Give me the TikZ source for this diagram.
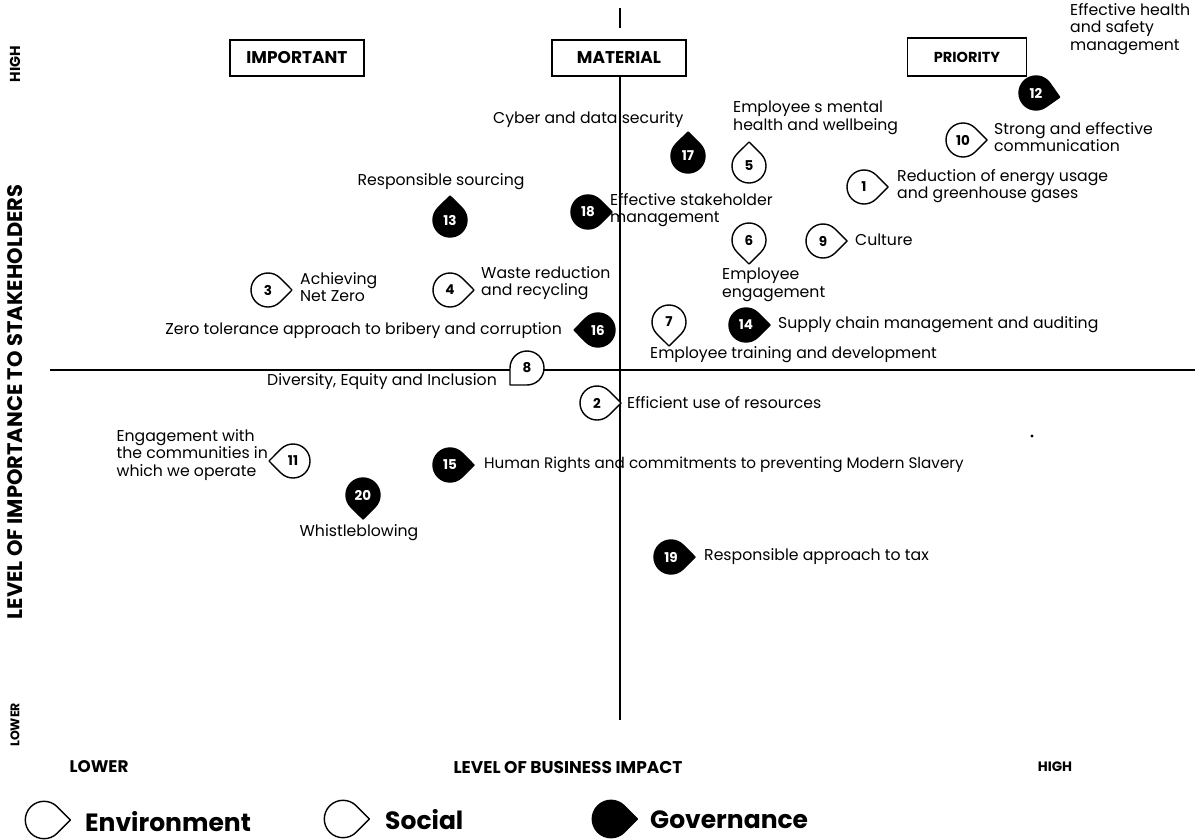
\documentclass[tikz,border=0pt]{standalone}
\usepackage{fontspec}
\setmainfont{Poppins}
\tikzset{
 lbl/.style={font=\fontsize{15.7}{17.5}\selectfont, inner sep=0pt, align=left},
 numb/.style={font=\bfseries\fontsize{13.5}{13.5}\selectfont, inner sep=0pt, text=black},
 numw/.style={font=\bfseries\fontsize{13.5}{13.5}\selectfont, inner sep=0pt, text=white},
 envd/.style={draw=black, fill=white, line width=1.4pt, line join=round},
 govd/.style={draw=black, fill=black, line width=1.4pt, line join=round},
 qbox/.style={draw, line width=1.3pt, minimum width=134pt, minimum height=36pt, font=\bfseries\fontsize{17}{17}\selectfont},
 axis/.style={line width=1.8pt},
 axlbl/.style={font=\bfseries, inner sep=0pt},
 leg/.style={font=\bfseries\fontsize{25}{25}\selectfont, inner sep=0pt, anchor=west}
}
\newcommand{\dropE}[5]{%
 \draw[envd, shift={(#2,#3)}, rotate=#4] (24,0) -- (45:17) arc[start angle=45, end angle=315, radius=17] -- cycle;
 \node[numb] (#1) at (#2,#3) {#5};}
\newcommand{\dropG}[5]{%
 \draw[govd, shift={(#2,#3)}, rotate=#4] (24,0) -- (45:17) arc[start angle=45, end angle=315, radius=17] -- cycle;
 \node[numw] (#1) at (#2,#3) {#5};}
\begin{document}
\begin{tikzpicture}[x=1pt,y=-1pt]
\useasboundingbox[fill=white] (0,0) rectangle (1199,840);
% boxes
\node[qbox] (imp) at (297,58) {IMPORTANT};
\node[qbox] (mat) at (619,58) {MATERIAL};
\node[qbox, minimum width=119pt, minimum height=38pt, font=\bfseries\fontsize{14.5}{14.5}\selectfont] (pri) at (967,57) {PRIORITY};
% axes
\coordinate (vt1) at (620,8);
\coordinate (vt2) at (620,28);
\coordinate (vb1) at (620,76);
\coordinate (vb2) at (620,720);
\coordinate (hl) at (50,370);
\coordinate (hr) at (1195,370);
\draw[axis] (vt1) -- (vt2);
\draw[axis] (vb1) -- (vb2);
\draw[axis] (hl) -- (hr);
% axis labels
\node[axlbl, rotate=90, font=\bfseries\fontsize{14.4}{14.4}\selectfont] (yhigh) at (15,64) {HIGH};
\node[axlbl, rotate=90, font=\bfseries\fontsize{21}{21}\selectfont] (ytitle) at (15,402) {LEVEL OF IMPORTANCE TO STAKEHOLDERS};
\node[axlbl, rotate=90, font=\bfseries\fontsize{12.5}{12.5}\selectfont] (ylow) at (15,725) {LOWER};
\node[axlbl, font=\bfseries\fontsize{16.8}{16.8}\selectfont] (xlow) at (99,767) {LOWER};
\node[axlbl, font=\bfseries\fontsize{17}{17}\selectfont] (xtitle) at (568,767) {LEVEL OF BUSINESS IMPACT};
\node[axlbl, font=\bfseries\fontsize{13.6}{13.6}\selectfont] (xhigh) at (1055,767) {HIGH};
% markers
\dropE{m1}{864}{187}{0}{1}
\dropE{m2}{597}{403}{0}{2}
\dropE{m3}{268}{290}{0}{3}
\dropE{m4}{450}{290}{0}{4}
\dropE{m5}{749}{166}{90}{5}
\dropE{m6}{749}{240}{-90}{6}
\dropE{m7}{669}{322}{-90}{7}
\dropE{m8}{527}{368}{225}{8}
\dropE{m9}{823}{241}{0}{9}
\dropE{m10}{963}{140}{0}{10}
\dropE{m11}{293}{461}{180}{11}
\dropG{m12}{1036}{93}{-10}{12}
\dropG{m13}{450}{220}{90}{13}
\dropG{m14}{746}{325}{0}{14}
\dropG{m15}{450}{465}{0}{15}
\dropG{m16}{598}{330}{180}{16}
\dropG{m17}{688}{156}{90}{17}
\dropG{m18}{588}{212}{0}{18}
\dropG{m19}{671}{557}{0}{19}
\dropG{m20}{363}{495}{-90}{20}
% labels
\node[lbl, anchor=west] (t1) at (897,186) {Reduction of energy usage\\and greenhouse gases};
\node[lbl, anchor=west] (t2) at (627,403) {Efficient use of resources};
\node[lbl, anchor=west] (t3) at (300,287) {Achieving\\Net Zero};
\node[lbl, anchor=west] (t4) at (481,283) {Waste reduction\\and recycling};
\node[lbl, anchor=west] (t5) at (733,118) {Employee s mental\\health and wellbeing};
\node[lbl, anchor=west] (t6) at (722,285) {Employee\\engagement};
\node[lbl, anchor=west] (t7) at (650,355) {Employee training and development};
\node[lbl, anchor=east] (t8) at (497,382) {Diversity, Equity and Inclusion};
\node[lbl, anchor=west] (t9) at (855,240) {Culture};
\node[lbl, anchor=west] (t10) at (994,137) {Strong and effective\\communication};
\node[lbl, anchor=east] (t11) at (268,455) {Engagement with\\the communities in\\which we operate};
\node[lbl, anchor=west] (t12) at (1070,29) {Effective health\\and safety\\management};
\node[lbl] (t13) at (441,182) {Responsible sourcing};
\node[lbl, anchor=west] (t14) at (778,325) {Supply chain management and auditing};
\node[lbl, anchor=west, font=\fontsize{15.2}{17.5}\selectfont] (t15) at (484,465) {Human Rights and commitments to preventing Modern Slavery};
\node[lbl, anchor=east] (t16) at (562,331) {Zero tolerance approach to bribery and corruption};
\node[lbl, anchor=west] (t17) at (493,120) {Cyber and data security};
\node[lbl, anchor=west] (t18) at (610,210) {Effective stakeholder\\management};
\node[lbl, anchor=west] (t19) at (704,557) {Responsible approach to tax};
\node[lbl] (t20) at (359,533) {Whistleblowing};
% stray dot
\fill (1032,436) circle (1.6);
% legend
\draw[envd, shift={(44,820)}, scale=1.1] (24,0) -- (45:17) arc[start angle=45, end angle=315, radius=17] -- cycle;
\coordinate (le) at (44,820);
\node[leg] (lenv) at (85,822) {Environment};
\draw[envd, shift={(343,819)}, scale=1.1] (24,0) -- (45:17) arc[start angle=45, end angle=315, radius=17] -- cycle;
\coordinate (ls) at (343,819);
\node[leg] (lsoc) at (385,820) {Social};
\draw[govd, shift={(611,819)}, scale=1.1] (24,0) -- (45:17) arc[start angle=45, end angle=315, radius=17] -- cycle;
\coordinate (lg) at (611,819);
\node[leg] (lgov) at (650,820) {Governance};
\end{tikzpicture}
\end{document}
